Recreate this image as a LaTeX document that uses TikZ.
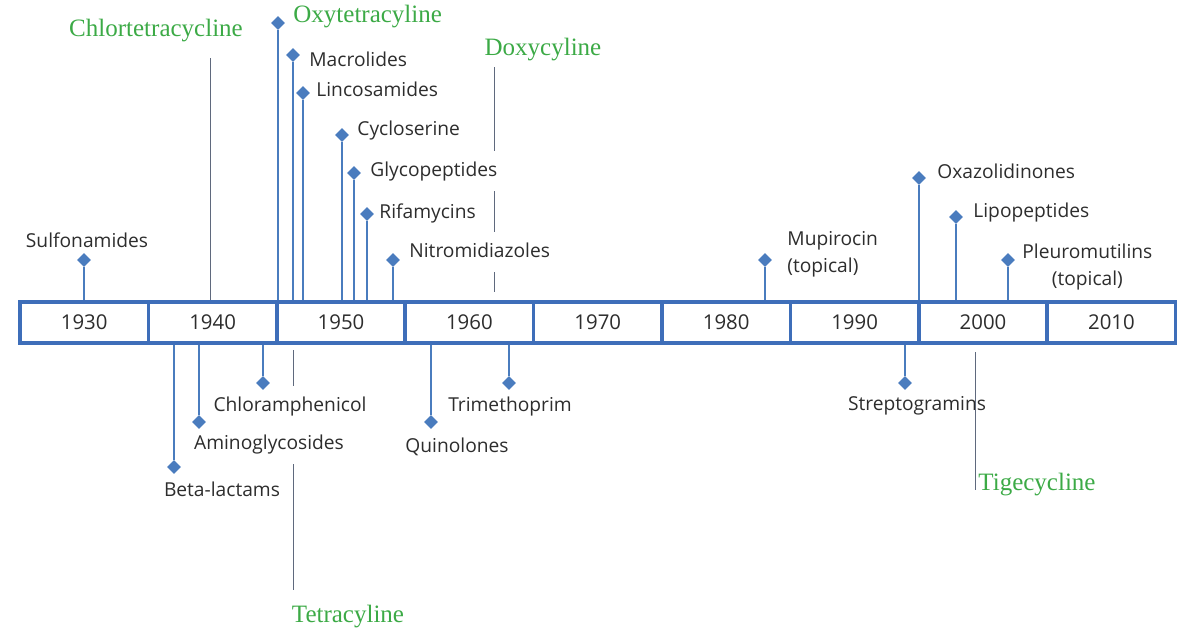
\documentclass[tikz,border=0pt]{standalone}
\usepackage{fontspec}
\setsansfont{Open Sans}
\setmainfont{Liberation Serif}
\usetikzlibrary{shapes.geometric}

\definecolor{barblue}{RGB}{62,110,185}
\definecolor{stemblue}{RGB}{74,124,190}
\definecolor{guidegray}{RGB}{95,105,125}
\definecolor{ink}{RGB}{45,45,45}
\definecolor{drugreen}{RGB}{60,170,70}

\tikzset{
  cell/.style={draw=barblue, line width=1.8pt, fill=white, minimum width=64.2pt,
    minimum height=20.5pt, inner sep=0pt, text=ink,
    font=\sffamily\fontsize{10.2}{12}\selectfont},
  dot/.style={diamond, fill=stemblue, inner sep=0pt, minimum size=7pt},
  stem/.style={draw=stemblue, line width=1.1pt},
  guide/.style={draw=guidegray, line width=0.5pt},
  lbl/.style={font=\sffamily\fontsize{9.6}{13.5}\selectfont, text=ink, inner sep=1pt},
  cover/.style={fill=white, text height=7.5pt, text depth=2.5pt, inner ysep=5pt},
  tet/.style={font=\rmfamily\fontsize{12.5}{15}\selectfont, text=drugreen, inner sep=1pt}
}

\begin{document}
\begin{tikzpicture}[x=0.5pt, y=-0.5pt]
  \useasboundingbox (0,0) rectangle (1181,633);

  \foreach \yr [count=\i from 0] in {1930,1940,...,2010}
    \node[cell] (y\yr) at ({84.2+128.4*\i},322.5) {\yr};

  \coordinate (chlortG) at (210,58);
  \coordinate (doxyG) at (494,67);
  \coordinate (doxyB) at (494,292);
  \coordinate (tetraA) at (293,350);
  \coordinate (tetraB) at (293,590);
  \draw[guide] (chlortG) -- (chlortG |- y1940.north);
  \draw[guide] (doxyG) -- (doxyB);
  \draw[guide] (tetraA) -- (tetraB);

  \node[tet] (chlortT) at (156,31) {Chlortetracycline};
  \node[tet, anchor=west] (oxytT) at (291,17) {Oxytetracyline};
  \node[tet] (doxyT) at (543,50) {Doxycyline};
  \node[tet] (tetraT) at (348,617) {Tetracyline};

  \node[lbl] (sulfT) at (87,240) {Sulfonamides};
  \node[lbl, anchor=west] (macroT) at (307,59) {Macrolides};
  \node[lbl, anchor=west] (lincoT) at (314,89) {Lincosamides};
  \node[lbl, anchor=west] (cycloT) at (355,131) {Cycloserine};
  \node[lbl, cover, anchor=west] (glycoT) at (368,171) {Glycopeptides};
  \node[lbl, anchor=west] (rifaT) at (377,213) {Rifamycins};
  \node[lbl, cover, anchor=west] (nitroT) at (407,252) {Nitromidiazoles};
  \node[lbl, anchor=west, align=left] (mupiT) at (785,254) {Mupirocin\\(topical)};
  \node[lbl, anchor=west] (oxazT) at (935,171) {Oxazolidinones};
  \node[lbl, anchor=west] (lipoT) at (971,213) {Lipopeptides};
  \node[lbl, anchor=west, align=center] (pleuT) at (1020,267) {Pleuromutilins\\(topical)};

  \node[lbl] (betaT) at (222,489) {Beta-lactams};
  \node[lbl, cover] (aminoT) at (269,444) {Aminoglycosides};
  \node[lbl, cover] (chlorT) at (290,406) {Chloramphenicol};
  \node[lbl] (quinoT) at (457,447) {Quinolones};
  \node[lbl] (trimeT) at (510,406) {Trimethoprim};
  \node[lbl] (strepT) at (917,406) {Streptogramins};

  \node[dot] (sulf) at (84,260) {};
  \node[dot] (oxyt) at (278,23) {};
  \node[dot] (macro) at (293,55) {};
  \node[dot] (linco) at (303,93) {};
  \node[dot] (cyclo) at (342,135) {};
  \node[dot] (glyco) at (354,173) {};
  \node[dot] (rifa) at (367,214) {};
  \node[dot] (nitro) at (393,260) {};
  \node[dot] (mupi) at (765,260) {};
  \node[dot] (oxaz) at (919,178) {};
  \node[dot] (lipo) at (956,217) {};
  \node[dot] (pleu) at (1008,260) {};
  \node[dot] (beta) at (174,467) {};
  \node[dot] (amino) at (199,422) {};
  \node[dot] (chlor) at (263,383) {};
  \node[dot] (quino) at (431,422) {};
  \node[dot] (trime) at (509,383) {};
  \node[dot] (strep) at (905,383) {};

  \draw[stem] (sulf) -- (sulf |- y1930.north);
  \draw[stem] (oxyt) -- (oxyt |- y1950.north);
  \draw[stem] (macro) -- (macro |- y1950.north);
  \draw[stem] (linco) -- (linco |- y1950.north);
  \draw[stem] (cyclo) -- (cyclo |- y1950.north);
  \draw[stem] (glyco) -- (glyco |- y1950.north);
  \draw[stem] (rifa) -- (rifa |- y1950.north);
  \draw[stem] (nitro) -- (nitro |- y1950.north);
  \draw[stem] (mupi) -- (mupi |- y1980.north);
  \draw[stem] (oxaz) -- (oxaz |- y2000.north);
  \draw[stem] (lipo) -- (lipo |- y2000.north);
  \draw[stem] (pleu) -- (pleu |- y2000.north);
  \draw[stem] (beta) -- (beta |- y1940.south);
  \draw[stem] (amino) -- (amino |- y1940.south);
  \draw[stem] (chlor) -- (chlor |- y1940.south);
  \draw[stem] (quino) -- (quino |- y1960.south);
  \draw[stem] (trime) -- (trime |- y1960.south);
  \draw[stem] (strep) -- (strep |- y1990.south);

  \coordinate (tigeA) at (975,352);
  \coordinate (tigeB) at (975,490);
  \draw[guide] (tigeA) -- (tigeB);
  \node[tet, anchor=west] (tigeT) at (976,485) {Tigecycline};
\end{tikzpicture}
\end{document}
